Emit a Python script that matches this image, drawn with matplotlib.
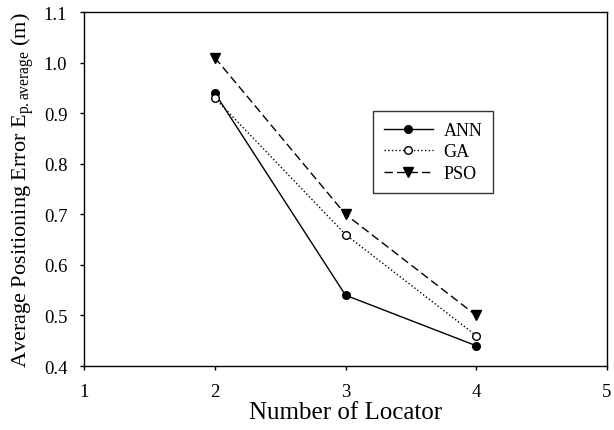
import matplotlib
matplotlib.use("Agg")
import matplotlib.pyplot as plt

locators = [2, 3, 4]
ann = [0.94, 0.54, 0.44]
ga = [0.93, 0.66, 0.46]
pso = [1.01, 0.70, 0.50]

x_ticks = [1, 2, 3, 4, 5]
y_ticks = [0.4, 0.5, 0.6, 0.7, 0.8, 0.9, 1.0, 1.1]

plt.rcParams.update(
    {
        "font.family": ["Liberation Serif", "DejaVu Serif"],
        "mathtext.fontset": "custom",
        "mathtext.rm": "Liberation Serif",
        "mathtext.it": "Liberation Serif:italic",
        "axes.linewidth": 1.0,
    }
)

fig = plt.figure(figsize=(6.14, 4.31), dpi=100)
ax = fig.add_axes([84 / 614, 1 - 367 / 431, (607 - 84) / 614, (367 - 13) / 431])

ax.plot(locators, ann, color="black", linestyle="-", linewidth=1.0,
        marker="o", markersize=5.5, markerfacecolor="black", markeredgecolor="black", label="ANN")
ax.plot(locators, ga, color="black", linestyle=":", linewidth=1.0,
        marker="o", markersize=5.5, markerfacecolor="white", markeredgecolor="black", label="GA")
ax.plot(locators, pso, color="black", linestyle=(0, (6, 3)), linewidth=1.0,
        marker="v", markersize=6.5, markerfacecolor="black", markeredgecolor="black", label="PSO")

ax.set_xlim(1, 5)
ax.set_ylim(0.4, 1.1)
ax.set_xticks(x_ticks)
ax.set_yticks(y_ticks)
ax.set_xticklabels([str(v) for v in x_ticks])
ax.set_yticklabels([f"{v:.1f}" for v in y_ticks])
ax.tick_params(direction="out", length=3, width=1.0, labelsize=13.5)
ax.tick_params(axis="x", pad=9)
ax.tick_params(axis="y", pad=9)
ax.tick_params(top=False, right=False)

ax.set_xlabel("Number of Locator", fontsize=18, labelpad=1)
ax.set_ylabel(r"Average Positioning Error E$_{\mathrm{p.average}}$ (m)", fontsize=16, labelpad=6)

leg = ax.legend(
    loc="upper left",
    bbox_to_anchor=(373 / 614, 1 - 112 / 431),
    bbox_transform=fig.transFigure,
    fontsize=13,
    frameon=True,
    fancybox=False,
    handlelength=2.7,
    handletextpad=0.6,
    borderpad=0.6,
    labelspacing=0.25,
    borderaxespad=0,
)
leg.get_frame().set_edgecolor("black")
leg.get_frame().set_linewidth(1.0)

fig.savefig("out.png", dpi=100)
